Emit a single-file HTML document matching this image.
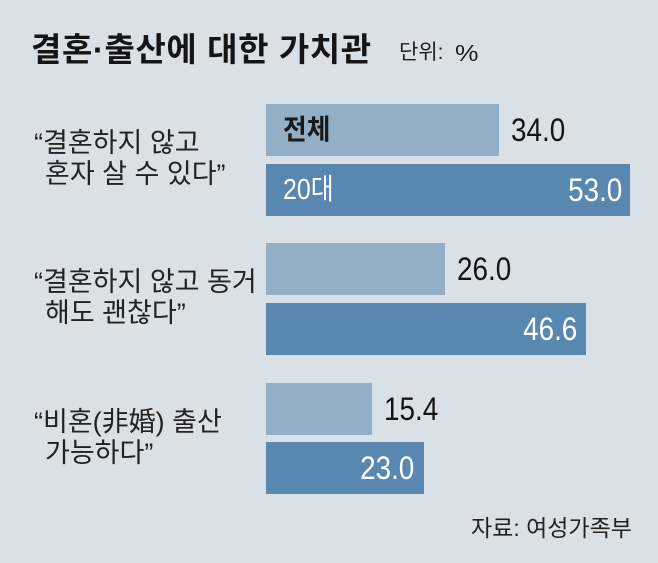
<!DOCTYPE html>
<html><head><meta charset="utf-8">
<style>
html,body{margin:0;padding:0;}
body{width:658px;height:563px;background:#d9e0e6;position:relative;overflow:hidden;
font-family:"Liberation Sans","Noto Sans CJK KR",sans-serif;color:#1e1e1e;}
.a{position:absolute;white-space:nowrap;}
.title{left:31px;top:33px;font-size:33px;line-height:33px;font-weight:bold;letter-spacing:0.6px;color:#151515;}
.unit{left:399px;top:42px;font-size:21px;line-height:21px;}
.pct{left:455px;top:42px;font-size:23px;line-height:23px;transform:scaleX(1.15);transform-origin:left center;}
.lab{font-size:27px;line-height:31px;left:34px;color:#222;}
.lab .l2{padding-left:11px;}
.bar{position:absolute;left:266px;height:52px;}
.lt{background:#93afc6;}
.dk{background:#5887b0;}
.num{position:absolute;font-size:32px;line-height:52px;height:52px;transform:scaleX(0.87);transform-origin:left center;color:#151515;}
.wn{position:absolute;font-size:32px;line-height:52px;height:52px;transform:scaleX(0.87);transform-origin:right center;color:#fff;text-align:right;}
.src{left:471px;top:517px;font-size:23px;line-height:23px;color:#222;}
</style></head><body>
<div class="a title">결혼·출산에 대한 가치관</div>
<div class="a unit">단위:</div>
<div class="a pct">%</div>

<div class="a lab" style="top:128px;"><div>“결혼하지 않고</div><div class="l2">혼자 살 수 있다”</div></div>
<div class="a lab" style="top:267px;"><div>“결혼하지 않고 동거</div><div class="l2">해도 괜찮다”</div></div>
<div class="a lab" style="top:407px;"><div>“비혼(非婚) 출산</div><div class="l2">가능하다”</div></div>

<div class="bar lt" style="top:104px;width:233px;"></div>
<div class="bar dk" style="top:164px;width:364px;"></div>
<div class="bar lt" style="top:243px;width:179px;"></div>
<div class="bar dk" style="top:303px;width:320px;"></div>
<div class="bar lt" style="top:383px;width:106px;"></div>
<div class="bar dk" style="top:442px;width:158px;"></div>

<div class="a" style="left:283px;top:104px;font-size:28px;line-height:52px;font-weight:bold;color:#1a1a1a;transform:scaleX(0.92);transform-origin:left center;">전체</div>
<div class="a" style="left:283px;top:164px;font-size:29px;line-height:52px;color:#fff;transform:scaleX(0.86);transform-origin:left center;">20대</div>

<div class="num" style="left:511px;top:104px;">34.0</div>
<div class="num" style="left:457px;top:243px;">26.0</div>
<div class="num" style="left:384px;top:383px;">15.4</div>

<div class="wn" style="right:36px;top:164px;">53.0</div>
<div class="wn" style="right:81px;top:303px;">46.6</div>
<div class="wn" style="right:244px;top:442px;">23.0</div>

<div class="a src">자료: 여성가족부</div>
</body></html>
